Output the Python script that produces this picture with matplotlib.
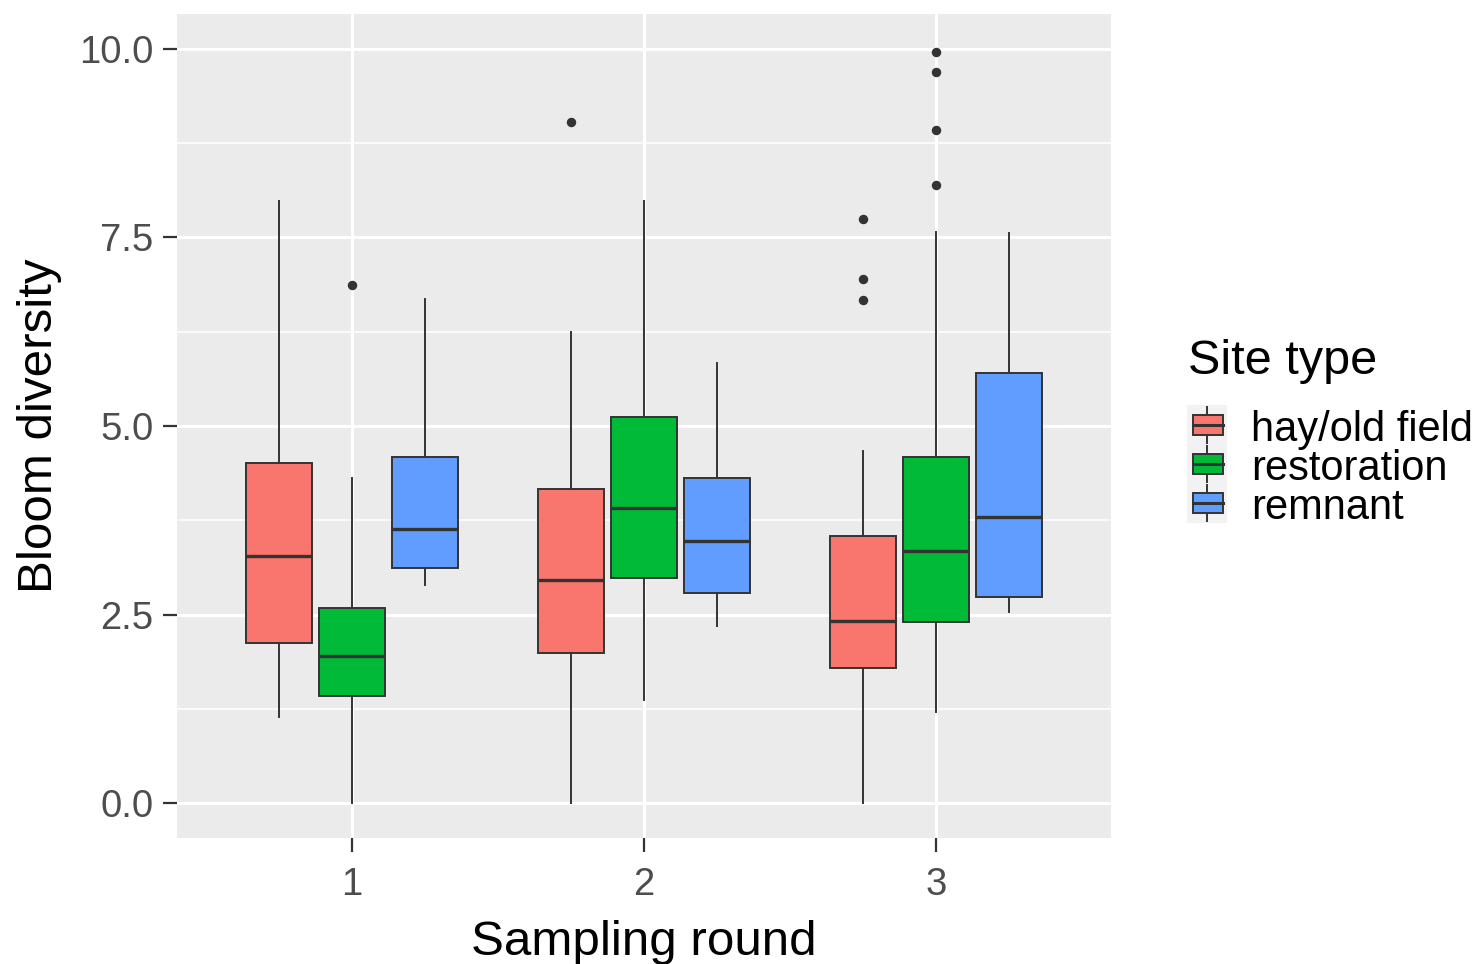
import matplotlib.pyplot as plt
from matplotlib.patches import Rectangle

plt.rcParams['font.family'] = ['Liberation Sans', 'DejaVu Sans']

# Summary statistics per sampling round and site type
rounds = [1, 2, 3]
site_types = ["hay/old field", "restoration", "remnant"]
colors = ["#F8766D", "#00BA38", "#619CFF"]

# [whisker low, Q1, median, Q3, whisker high] for rounds 1..3
hay_stats = [[1.14, 2.12, 3.28, 4.51, 7.98],
             [0.00, 1.99, 2.96, 4.16, 6.25],
             [0.00, 1.79, 2.41, 3.54, 4.67]]
restoration_stats = [[0.00, 1.42, 1.95, 2.59, 4.31],
                     [1.37, 2.98, 3.91, 5.12, 7.98],
                     [1.21, 2.40, 3.34, 4.59, 7.57]]
remnant_stats = [[2.89, 3.12, 3.63, 4.59, 6.68],
                 [2.35, 2.79, 3.47, 4.31, 5.84],
                 [2.53, 2.73, 3.79, 5.70, 7.56]]

hay_outliers = [[], [9.03], [7.75, 6.95, 6.67]]
restoration_outliers = [[6.87], [], [9.96, 9.69, 8.93, 8.20]]
remnant_outliers = [[], [], []]

all_stats = [hay_stats, restoration_stats, remnant_stats]
all_outliers = [hay_outliers, restoration_outliers, remnant_outliers]

fig = plt.figure(figsize=(14.81, 9.64), dpi=100)
ax = fig.add_axes([177 / 1481, 1 - 838 / 964, (1111 - 177) / 1481, (838 - 14) / 964])
ax.set_facecolor("#EBEBEB")
for s in ax.spines.values():
    s.set_visible(False)

# grid: major and minor lines like ggplot's theme_gray
for y in [1.25, 3.75, 6.25, 8.75]:
    ax.axhline(y, color="white", lw=1.1, zorder=0)
for y in [0, 2.5, 5, 7.5, 10]:
    ax.axhline(y, color="white", lw=2.2, zorder=0)
for x in rounds:
    ax.axvline(x, color="white", lw=2.2, zorder=0)

offsets = [-0.25, 0.0, 0.25]
edge = "#333333"
for k in range(3):
    bstats = []
    for i, r in enumerate(rounds):
        lo, q1, med, q3, hi = all_stats[k][i]
        bstats.append(dict(whislo=lo, q1=q1, med=med, q3=q3, whishi=hi,
                           fliers=all_outliers[k][i]))
    ax.bxp(bstats, positions=[r + offsets[k] for r in rounds], widths=0.225,
           patch_artist=True, showcaps=False, manage_ticks=False,
           boxprops=dict(facecolor=colors[k], edgecolor=edge, lw=1.4),
           medianprops=dict(color=edge, lw=2.4),
           whiskerprops=dict(color=edge, lw=1.4),
           flierprops=dict(marker="o", markersize=5.8, markerfacecolor=edge,
                           markeredgecolor=edge))

ax.set_xlim(0.4, 3.6)
ax.set_ylim(-0.464, 10.464)
ax.set_xticks(rounds)
ax.set_xticklabels([str(r) for r in rounds])
ax.set_yticks([0, 2.5, 5, 7.5, 10])
ax.set_yticklabels(["0.0", "2.5", "5.0", "7.5", "10.0"])
ax.tick_params(axis="both", length=10, width=1.6, color=edge,
               labelsize=27.5, labelcolor="#4D4D4D")
ax.tick_params(axis="y", pad=7)
ax.tick_params(axis="x", pad=11)
ax.set_xlabel("Sampling round", fontsize=35.5, labelpad=12)
ax.set_ylabel("Bloom diversity", fontsize=35.5, labelpad=12)

# legend
fig.text(1188 / 1481, 1 - 362 / 964, "Site type", fontsize=35, va="center", ha="left")
lax = fig.add_axes([1187 / 1481, 1 - 523 / 964, 40 / 1481, 118 / 964])
lax.set_xlim(0, 40)
lax.set_ylim(0, 118)
lax.invert_yaxis()
lax.axis("off")
lax.add_patch(Rectangle((0, 0), 40, 118, color="#F2F2F2", zorder=0))
for k, name in enumerate(site_types):
    yc = 20 + 39 * k
    lax.plot([20, 20], [yc - 18, yc + 18], color=edge, lw=1.4, zorder=1)
    lax.add_patch(Rectangle((6, yc - 10), 30, 20, facecolor=colors[k],
                            edgecolor=edge, lw=1.4, zorder=2))
    lax.plot([6, 36], [yc, yc], color=edge, lw=2.2, zorder=3)
    fig.text(1251 / 1481, 1 - (410 + yc) / 964, name, fontsize=30,
             va="center", ha="left")

fig.savefig("out.png", dpi=100)
